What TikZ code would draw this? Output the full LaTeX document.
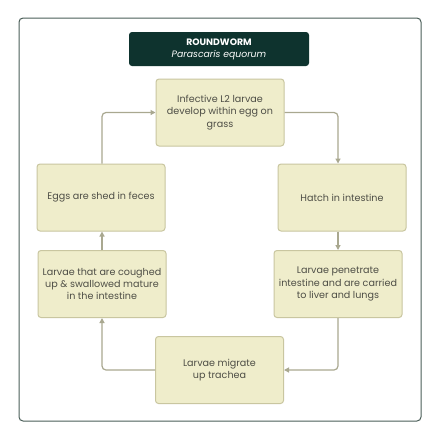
\documentclass[tikz,border=0pt]{standalone}
\usepackage{fontspec}
\setmainfont{Poppins}
\usetikzlibrary{arrows.meta}
\definecolor{frame}{HTML}{4A5E58}
\definecolor{titlebg}{HTML}{0E332E}
\definecolor{boxfill}{HTML}{EFEDCB}
\definecolor{boxline}{HTML}{C9C6A0}
\definecolor{arrowc}{HTML}{A9A890}
\definecolor{txt}{HTML}{4E4E46}
\tikzset{
  stage/.style={draw=boxline, fill=boxfill, line width=1pt, rounded corners=3pt,
    minimum width=128pt, minimum height=67pt, align=center, text=txt,
    font=\fontsize{9.6}{12.3}\selectfont, inner sep=2pt},
  conn/.style={draw=arrowc, line width=1.2pt, rounded corners=4pt,
    -{Triangle[length=5pt,width=5pt]}}
}
\begin{document}
\begin{tikzpicture}[x=1pt,y=-1pt]
\useasboundingbox (0,0) rectangle (440,440);
\fill[white] (0,0) rectangle (440,440);
\draw[frame, line width=1pt, rounded corners=4pt] (19,18) rectangle (421,421);
\node[fill=titlebg, rounded corners=3pt, minimum width=180pt, minimum height=34pt, text=white, align=center, font=\fontsize{9.3}{12}\selectfont] (title) at (219,49) {\textbf{ROUNDWORM}\\\textit{Parascaris equorum}};
\node[stage] (infect) at (220,112.5) {Infective L2 larvae\\develop within egg on\\grass};
\node[stage] (eggs) at (101,197.5) {Eggs are shed in feces};
\node[stage] (hatch) at (342,197.5) {Hatch in intestine};
\node[stage] (cough) at (102,284) {Larvae that are coughed\\up \& swallowed mature\\in the intestine};
\node[stage] (pen) at (338,284) {Larvae penetrate\\intestine and are carried\\to liver and lungs};
\node[stage] (mig) at (219.5,370) {Larvae migrate\\up trachea};
\draw[conn] (infect.east) -| (hatch.north -| pen.north);
\draw[conn] (hatch.south -| pen.north) -- (pen.north);
\draw[conn] (pen.south) |- (mig.east);
\draw[conn] (mig.west) -| (cough.south);
\draw[conn] (cough.north) -- (cough.north |- eggs.south);
\draw[conn] (cough.north |- eggs.north) |- (infect.west);
\end{tikzpicture}
\end{document}
